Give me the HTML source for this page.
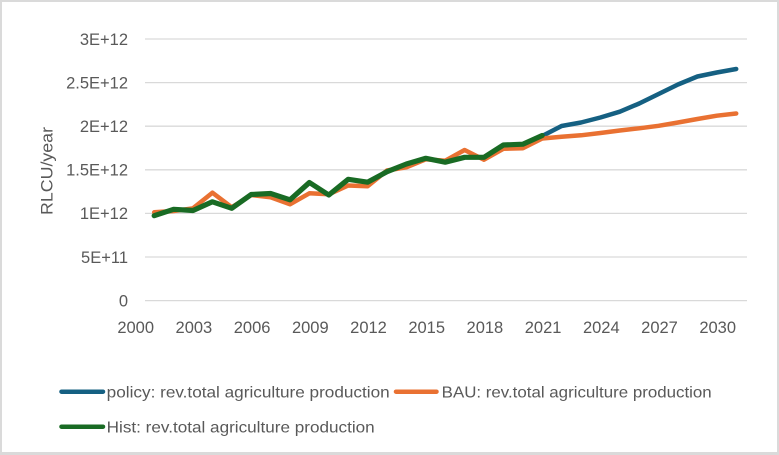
<!DOCTYPE html>
<html>
<head>
<meta charset="utf-8">
<style>
html,body{margin:0;padding:0;background:#dadada;}
svg{display:block;}
text{font-family:"Liberation Sans",sans-serif;fill:#595959;}
</style>
</head>
<body>
<svg width="779" height="455" viewBox="0 0 779 455" xmlns="http://www.w3.org/2000/svg">
<rect x="0" y="0" width="779" height="455" fill="#dadada"/>
<rect x="2" y="2" width="775" height="450" fill="#ffffff"/>
<!-- gridlines -->
<g stroke="#d9d9d9" stroke-width="1.3">
<line x1="145" y1="39" x2="747" y2="39"/>
<line x1="145" y1="82.6" x2="747" y2="82.6"/>
<line x1="145" y1="126.2" x2="747" y2="126.2"/>
<line x1="145" y1="169.8" x2="747" y2="169.8"/>
<line x1="145" y1="213.4" x2="747" y2="213.4"/>
<line x1="145" y1="257" x2="747" y2="257"/>
<line x1="145" y1="300.6" x2="747" y2="300.6"/>
</g>
<!-- y tick labels -->
<g font-size="16.5" text-anchor="end">
<text x="128" y="44.8">3E+12</text>
<text x="128" y="88.4">2.5E+12</text>
<text x="128" y="132">2E+12</text>
<text x="128" y="175.6">1.5E+12</text>
<text x="128" y="219.2">1E+12</text>
<text x="128" y="262.8">5E+11</text>
<text x="128" y="306.4">0</text>
</g>
<!-- x tick labels -->
<g font-size="16.5" text-anchor="middle">
<text x="135.7" y="333">2000</text>
<text x="193.9" y="333">2003</text>
<text x="252.1" y="333">2006</text>
<text x="310.3" y="333">2009</text>
<text x="368.5" y="333">2012</text>
<text x="426.7" y="333">2015</text>
<text x="484.9" y="333">2018</text>
<text x="543.1" y="333">2021</text>
<text x="601.3" y="333">2024</text>
<text x="659.5" y="333">2027</text>
<text x="717.7" y="333">2030</text>
</g>
<!-- y axis title -->
<text x="0" y="0" font-size="16.5" text-anchor="middle" textLength="88" lengthAdjust="spacingAndGlyphs" transform="translate(52.5,171) rotate(-90)">RLCU/year</text>
<!-- series -->
<g fill="none" stroke-linejoin="round" stroke-linecap="round">
<polyline stroke="#156082" stroke-width="4.5" points="542.2,136 561.6,126 581,122.5 600.4,117.5 619.8,111.7 639.2,103.5 658.6,94 678,84.5 697.4,76.5 716.8,72.5 736.2,69"/>
<polyline stroke="#E97132" stroke-width="4.5" points="154.2,212.3 173.6,211 193,208.3 212.4,192.7 231.8,207.3 251.2,195 270.6,197.3 290,204.3 309.4,193.3 328.8,194.3 348.2,185.5 367.6,186.3 387,170.5 406.4,167.3 425.8,159.3 445.2,160.7 464.6,150 484,159.7 503.4,148.8 522.8,148.3 542.2,138.5 561.6,136.7 581,135.3 600.4,133 619.8,130.5 639.2,128.3 658.6,125.8 678,122.5 697.4,119 716.8,115.7 736.2,113.5"/>
<polyline stroke="#196B24" stroke-width="5.2" points="154.2,215.7 173.6,209.3 193,210.5 212.4,201.8 231.8,208.3 251.2,194.5 270.6,193.5 290,199.8 309.4,182.5 328.8,195 348.2,179.3 367.6,182.2 387,171.7 406.4,164 425.8,158.3 445.2,162.2 464.6,157.3 484,157.3 503.4,145 522.8,144.2 542.2,135.5"/>
</g>
<!-- legend -->
<g stroke-linecap="round" stroke-width="4.5">
<line x1="61.5" y1="391.7" x2="103" y2="391.7" stroke="#156082"/>
<line x1="396" y1="391.7" x2="436.5" y2="391.7" stroke="#E97132"/>
<line x1="61.5" y1="426.7" x2="103" y2="426.7" stroke="#196B24"/>
</g>
<g font-size="16">
<text x="106.7" y="397.5" textLength="283" lengthAdjust="spacingAndGlyphs">policy: rev.total agriculture production</text>
<text x="441.7" y="397.5" textLength="270" lengthAdjust="spacingAndGlyphs">BAU: rev.total agriculture production</text>
<text x="106.7" y="432.5" textLength="268" lengthAdjust="spacingAndGlyphs">Hist: rev.total agriculture production</text>
</g>
</svg>
</body>
</html>
